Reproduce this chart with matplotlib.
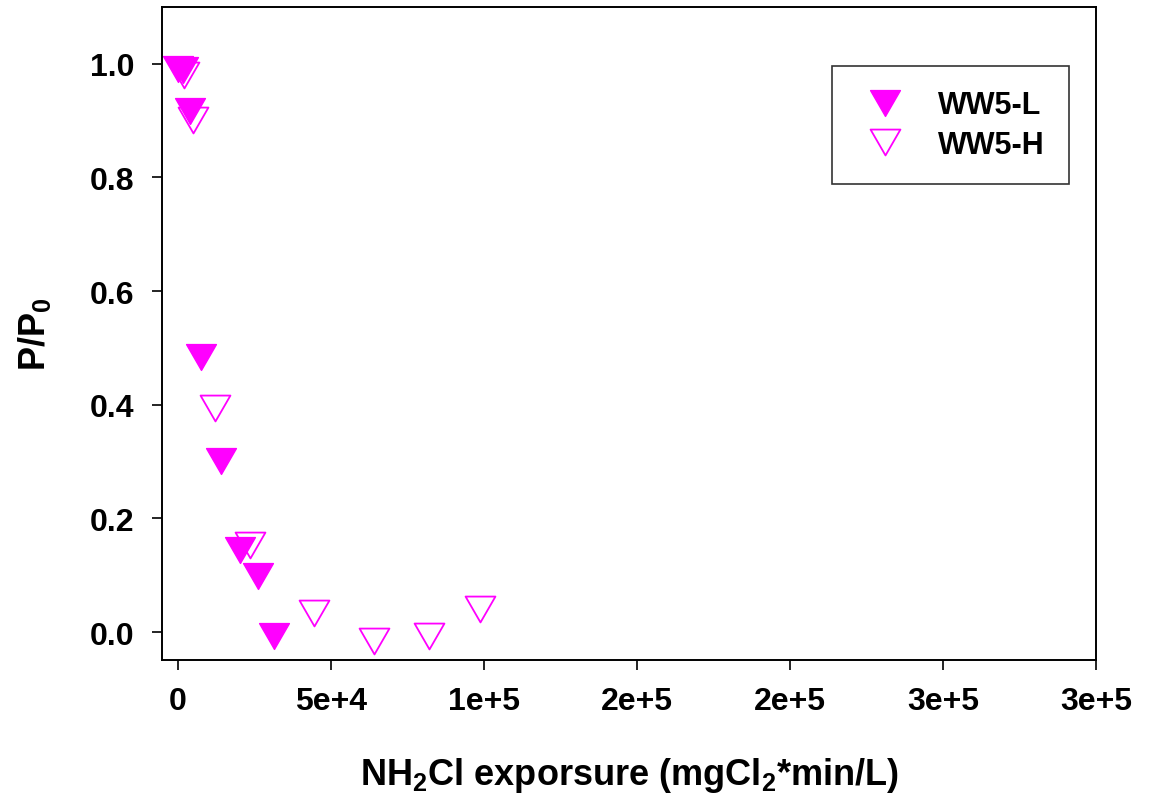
import numpy as np
import matplotlib
import matplotlib.pyplot as plt
from matplotlib.path import Path

matplotlib.use("Agg")

plt.rcParams['font.family'] = ['Liberation Sans', 'DejaVu Sans']
plt.rcParams['font.weight'] = 'bold'
plt.rcParams['mathtext.fontset'] = 'custom'
plt.rcParams['mathtext.bf'] = 'Liberation Sans:bold'
plt.rcParams['mathtext.rm'] = 'Liberation Sans:bold'

# WW5-L (filled)
ww5l_x = [0, 1600, 3900, 7500, 14000, 20300, 26100, 31400]
ww5l_y = [0.991, 0.990, 0.917, 0.484, 0.301, 0.145, 0.099, -0.007]

# WW5-H (open)
ww5h_x = [2000, 4900, 12100, 23400, 44300, 64000, 81900, 98700]
ww5h_y = [0.981, 0.901, 0.394, 0.153, 0.034, -0.015, -0.007, 0.041]

xticks = [0, 50000, 100000, 150000, 200000, 250000, 300000]
xtick_labels = ['0', '5e+4', '1e+5', '2e+5', '2e+5', '3e+5', '3e+5']
yticks = [0.0, 0.2, 0.4, 0.6, 0.8, 1.0]

W, H = 1151, 804
fig = plt.figure(figsize=(W / 100, H / 100), dpi=100)
ax = fig.add_axes([162 / W, (H - 661) / H, (1096 - 162) / W, (661 - 8) / H])

# downward triangle, a bit wider than tall
tri = Path([(-1, 0.866), (1, 0.866), (0, -0.866), (-1, 0.866)],
           [Path.MOVETO, Path.LINETO, Path.LINETO, Path.CLOSEPOLY])
mag = '#ff00ff'

h2, = ax.plot(ww5h_x, ww5h_y, linestyle='none', marker=tri, markersize=21.5,
              markerfacecolor='white', markeredgecolor=mag, markeredgewidth=1.3,
              label='WW5-H', clip_on=False)
h1, = ax.plot(ww5l_x, ww5l_y, linestyle='none', marker=tri, markersize=21.5,
              markerfacecolor=mag, markeredgecolor=mag, markeredgewidth=1.0,
              label='WW5-L', clip_on=False)

ax.set_xlim(-5230, 300000)
ax.set_ylim(-0.049, 1.1)
ax.set_xticks(xticks)
ax.set_xticklabels(xtick_labels)
ax.set_yticks(yticks)
ax.set_yticklabels(['%.1f' % v for v in yticks])

for s in ax.spines.values():
    s.set_linewidth(1.4)
ax.tick_params(direction='out', length=7, width=1.2, labelsize=23)
ax.tick_params(axis='x', pad=12)
ax.tick_params(axis='y', pad=13)

ax.set_xlabel(r'NH$_\mathbf{2}$Cl exporsure (mgCl$_\mathbf{2}$*min/L)', fontsize=26,
              fontweight='bold', labelpad=28)
ax.set_ylabel(r'P/P$_\mathbf{0}$', fontsize=26, fontweight='bold', labelpad=26)

leg = ax.legend([h1, h2], ['WW5-L', 'WW5-H'], loc='upper left',
                bbox_to_anchor=(832 / W, 1 - 67 / H), bbox_transform=fig.transFigure,
                frameon=True, fancybox=False, edgecolor='black', fontsize=22,
                borderpad=0.8, handletextpad=0.77, labelspacing=0.3,
                borderaxespad=0, handlelength=1.9)
leg.get_frame().set_linewidth(1.2)

fig.savefig('out.png', dpi=100)
